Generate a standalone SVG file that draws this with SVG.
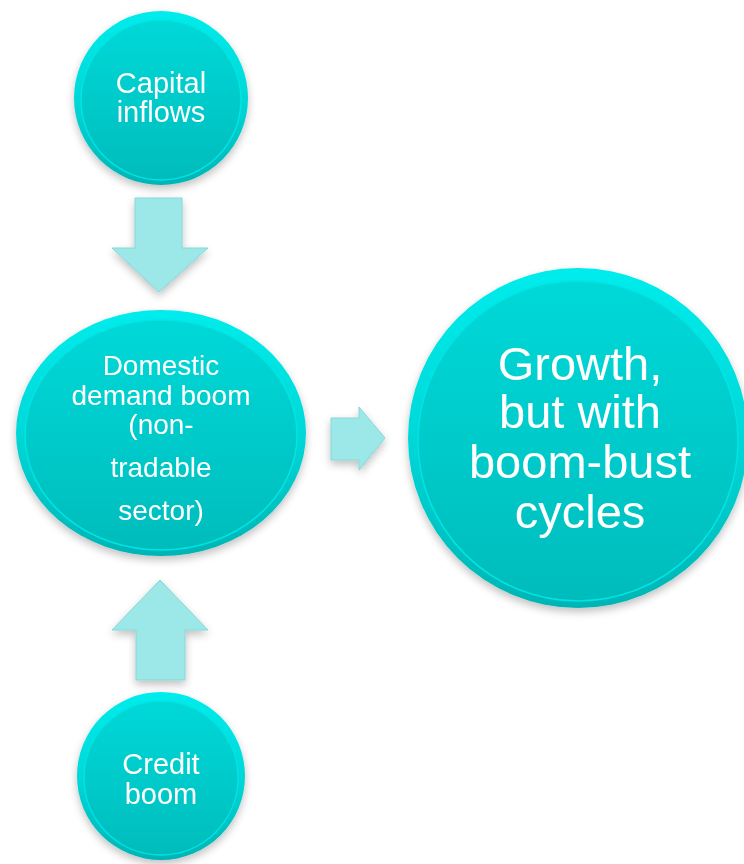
<svg xmlns="http://www.w3.org/2000/svg" width="744" height="864" viewBox="0 0 744 864">
<defs>
<linearGradient id="rim" x1="0" y1="0" x2="0" y2="1">
<stop offset="0" stop-color="#00ECEC"/>
<stop offset="0.5" stop-color="#00D8D8"/>
<stop offset="1" stop-color="#00B4B4"/>
</linearGradient>
<linearGradient id="face" x1="0" y1="0" x2="0" y2="1">
<stop offset="0" stop-color="#06D8D8"/>
<stop offset="0.6" stop-color="#00C8C8"/>
<stop offset="1" stop-color="#00BCBC"/>
</linearGradient>
<filter id="sh" x="-20%" y="-20%" width="140%" height="140%">
<feGaussianBlur in="SourceAlpha" stdDeviation="4"/>
<feOffset dx="0" dy="4" result="b"/>
<feComponentTransfer><feFuncA type="linear" slope="0.25"/></feComponentTransfer>
<feMerge><feMergeNode/><feMergeNode in="SourceGraphic"/></feMerge>
</filter>
<style>
.rim{fill:url(#rim);}
.face{fill:url(#face);stroke:#00E4E4;stroke-width:1.5;}
.arrow{fill:#9CE8E8;stroke:#86D6D6;stroke-width:1;filter:url(#sh);}
text{font-family:"Liberation Sans",Arial,sans-serif;fill:#FFFFFF;text-anchor:middle;}
.s{font-size:29px;}
.m{font-size:28px;}
.l{font-size:47px;}
</style>
</defs>
<g id="connectors">
<path class="arrow" d="M135,198 H182 V248 H208 L159,292 L112,248 H135 Z"/>
<path class="arrow" d="M331,418 H359 V407 L385,438 L359,470 V460 H331 Z"/>
<path class="arrow" d="M136,680 H185 V630 H208 L160,580 L112,630 H136 Z"/>
</g>
<g id="capital-inflows" filter="url(#sh)">
<circle class="rim" cx="161" cy="98" r="87"/>
<circle class="face" cx="161" cy="100" r="80"/>
<text class="s" x="161" y="93">Capital</text>
<text class="s" x="161" y="122">inflows</text>
</g>
<g id="domestic-demand" filter="url(#sh)">
<ellipse class="rim" cx="161" cy="433" rx="145" ry="123"/>
<ellipse class="face" cx="161" cy="435" rx="136" ry="115"/>
<text class="m" x="161" y="375">Domestic</text>
<text class="m" x="161" y="405">demand boom</text>
<text class="m" x="161" y="434">(non-</text>
<text class="m" x="161" y="477">tradable</text>
<text class="m" x="161" y="520">sector)</text>
</g>
<g id="growth" filter="url(#sh)">
<circle class="rim" cx="578" cy="438" r="170"/>
<circle class="face" cx="578" cy="441" r="160"/>
<text class="l" x="580" y="380">Growth,</text>
<text class="l" x="580" y="428">but with</text>
<text class="l" x="580" y="478">boom-bust</text>
<text class="l" x="580" y="528">cycles</text>
</g>
<g id="credit-boom" filter="url(#sh)">
<circle class="rim" cx="161" cy="776" r="84"/>
<circle class="face" cx="161" cy="778" r="77"/>
<text class="s" x="161" y="774">Credit</text>
<text class="s" x="161" y="804">boom</text>
</g>
</svg>
